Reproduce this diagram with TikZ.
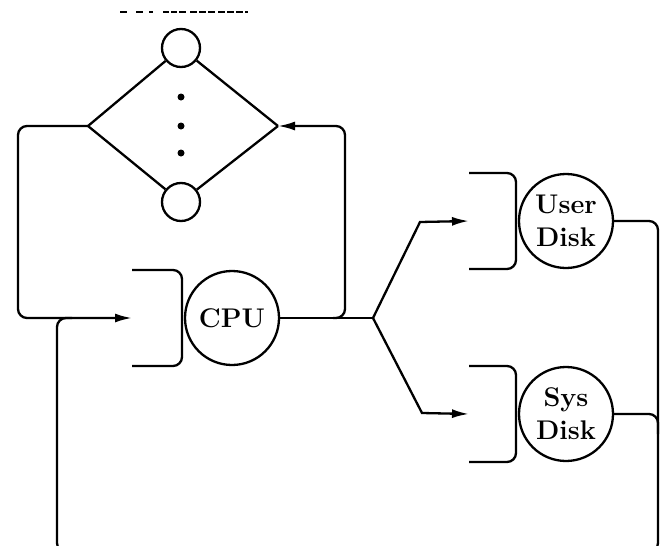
\documentclass[tikz,border=0pt]{standalone}
\usetikzlibrary{arrows.meta,calc}

\begin{document}
\begin{tikzpicture}[x=1pt,y=-1pt,
                    station/.style={draw,circle,line width=2.3pt,minimum size=94pt,inner sep=0pt,align=center,
                                    font=\fontsize{27}{33}\selectfont\bfseries},
                    branch/.style={draw,circle,line width=2.3pt,minimum size=38pt,inner sep=0pt},
                    flow/.style={line width=2.3pt,rounded corners=9pt},
                    queue/.style={line width=2.3pt,rounded corners=9pt},
                    into/.style={-{Latex[length=17pt,width=9pt]}}]
      \useasboundingbox (0,0) rectangle (664,546);
      \clip (0,0) rectangle (664,546);

      % the split at the top
      \draw[line width=2.3pt,dash pattern=on 7pt off 9pt on 7pt off 6pt on 4pt off 10pt on 6pt off 2pt on 6pt off 2pt on 7pt off 4pt
            on 7pt off 2pt on 7pt off 2pt on 7pt off 3pt on 7pt off 2pt on 7pt off 2pt on 7pt off 2pt on 9pt] (120,12) -- (248,12);
      \node[branch] (top) at (181,48) {};
      \node[branch] (bot) at (181,202) {};
      \coordinate (L) at (88,126);
      \coordinate (R) at (278,126);
      \draw[flow] (L) -- (top) (top) -- (R) (L) -- (bot) (bot) -- (R);
      \foreach \y in {97,126,153} {
        \fill (181,\y) circle (3.5pt);
      }

      % stations with their queues
      \node[station] (cpu) at (232,318) {CPU};
      \node[station] (user) at (566,221) {User\\Disk};
      \node[station] (sys) at (566,414) {Sys\\Disk};
      \foreach \st/\back in {cpu/100,user/97,sys/97} {
        \draw[queue] ($(\st)+(-\back,-48)$) -- ($(\st)+(-50,-48)$) -- ($(\st)+(-50,48)$) -- ($(\st)+(-\back,48)$);
        \coordinate (\st-in) at ($(\st)+(-\back,0)$);
      }

      % routing
      \coordinate (fork) at (373,318);
      \coordinate (tap) at (333,318);
      \draw[flow,into] (L) -- ++(-70,0) |- (cpu-in);
      \draw[flow] (cpu) -- (fork);
      \draw[flow,into] (tap) -- ++(12,0) |- (R);
      \draw[line width=2.3pt,into] (fork) -- (420,222) -- (user-in);
      \draw[line width=2.3pt,into] (fork) -- (422,413) -- (sys-in);
      \draw[flow] (user) -- ++(92,0) |- (57,552) |- (72,318);
      \draw[flow] (sys) -- ++(92,0) -- ++(0,20);
    \end{tikzpicture}
\end{document}
